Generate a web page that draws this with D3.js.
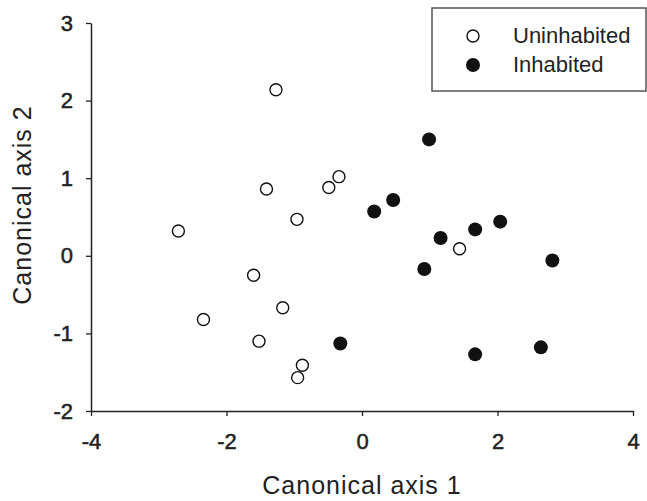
<!DOCTYPE html>
<html>
<head>
<meta charset="utf-8">
<script src="https://cdn.jsdelivr.net/npm/d3@7"></script>
<style>
body{margin:0;background:#fff;}
svg text{font-family:"Liberation Sans",Arial,sans-serif;fill:#222;}
</style>
</head>
<body>
<svg id="chart" width="647" height="501"></svg>
<script>
var xTicks=[-4,-2,0,2,4];
var yTicks=[-2,-1,0,1,2,3];
var groups=["Uninhabited","Inhabited"];
// open circles
var uninhabX=[-2.71,-1.27,-1.41,-0.96,-0.49,-0.34,1.44,-2.34,-1.60,-1.17,-1.52,-0.88,-0.95];
var uninhabY=[0.32,2.14,0.86,0.47,0.88,1.02,0.09,-0.82,-0.25,-0.67,-1.10,-1.41,-1.57];
// filled circles
var inhabX=[0.99,0.18,0.46,1.16,1.67,2.04,0.92,2.81,-0.32,1.67,2.64];
var inhabY=[1.50,0.57,0.72,0.23,0.34,0.44,-0.17,-0.06,-1.13,-1.27,-1.18];

var svg=d3.select("#chart");
var x=d3.scaleLinear().domain([-4,4]).range([91,633]);
var y=d3.scaleLinear().domain([-2,3]).range([411,23]);
var fmt=function(d){return String(d);};

var xa=svg.append("g").attr("transform","translate(0,411)")
	.call(d3.axisBottom(x).tickValues(xTicks).tickFormat(fmt).tickSize(5).tickSizeOuter(0).tickPadding(17));
var ya=svg.append("g").attr("transform","translate(91,0)")
	.call(d3.axisLeft(y).tickValues(yTicks).tickFormat(fmt).tickSize(5).tickSizeOuter(0).tickPadding(13));
[xa,ya].forEach(function(a){
	a.select(".domain").attr("stroke","#222").attr("stroke-width",1.5);
	a.selectAll(".tick line").attr("stroke","#222").attr("stroke-width",1.3);
	a.selectAll(".tick text").style("font-size","22px").attr("fill","#222")
		.attr("stroke","#222").attr("stroke-width",0.5);
});

svg.append("text").attr("x",362).attr("y",494).attr("text-anchor","middle")
	.style("font-size","25px").style("letter-spacing","1px").text("Canonical axis 1");
svg.append("text").attr("transform","translate(31,205) rotate(-90)").attr("text-anchor","middle")
	.style("font-size","25px").style("letter-spacing","1px").text("Canonical axis 2");

var open=uninhabX.map(function(v,i){return [v,uninhabY[i]];});
var filled=inhabX.map(function(v,i){return [v,inhabY[i]];});

svg.append("g").selectAll("circle").data(open).enter().append("circle")
	.attr("cx",d=>x(d[0])).attr("cy",d=>y(d[1])).attr("r",6)
	.attr("fill","#fff").attr("stroke","#111").attr("stroke-width",1.4);
svg.append("g").selectAll("circle").data(filled).enter().append("circle")
	.attr("cx",d=>x(d[0])).attr("cy",d=>y(d[1])).attr("r",7)
	.attr("fill","#111");

// legend
var lg=svg.append("g");
lg.append("rect").attr("x",432).attr("y",8).attr("width",214).attr("height",83)
	.attr("fill","#fff").attr("stroke","#555").attr("stroke-width",1.5);
groups.forEach(function(g,i){
	var cy=36+i*29;
	lg.append("circle").attr("cx",473).attr("cy",cy).attr("r",i==0?6:7)
		.attr("fill",i==0?"#fff":"#111").attr("stroke",i==0?"#111":"none").attr("stroke-width",1.4);
	lg.append("text").attr("x",513).attr("y",cy+7).style("font-size","22px").text(g);
});
</script>
</body>
</html>
